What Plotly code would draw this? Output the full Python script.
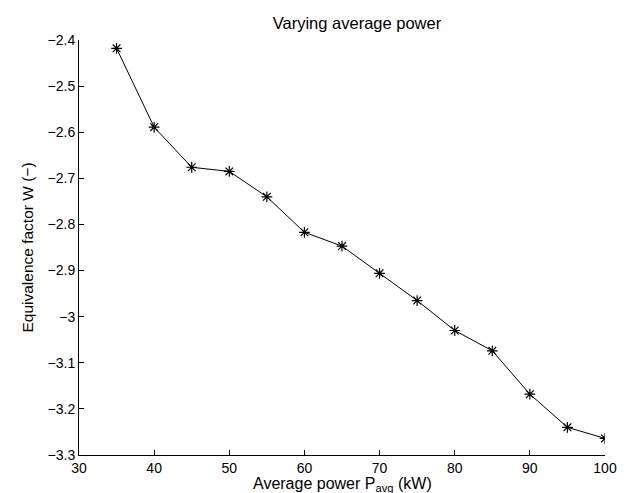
import plotly.graph_objects as go

power_kw = [35, 40, 45, 50, 55, 60, 65, 70, 75, 80, 85, 90, 95, 100]
equiv_w = [-2.418, -2.589, -2.676, -2.685, -2.740, -2.817, -2.847,
           -2.906, -2.965, -3.030, -3.074, -3.168, -3.240, -3.264]

x_ticks = [30, 40, 50, 60, 70, 80, 90, 100]
y_ticks = [-2.4, -2.5, -2.6, -2.7, -2.8, -2.9, -3.0, -3.1, -3.2, -3.3]
y_ticktext = ["\u22122.4", "\u22122.5", "\u22122.6", "\u22122.7", "\u22122.8",
              "\u22122.9", "\u22123", "\u22123.1", "\u22123.2", "\u22123.3"]

font_family = "Liberation Sans, Arial, Helvetica, sans-serif"

fig = go.Figure()
fig.add_trace(go.Scatter(
    x=power_kw, y=equiv_w, mode="lines+markers",
    line=dict(color="black", width=1),
    marker=dict(symbol="asterisk-open", size=9, color="black",
                line=dict(color="black", width=1.2)),
    showlegend=False,
))

fig.update_layout(
    width=632, height=493,
    margin=dict(l=71, r=35, t=32, b=46),
    paper_bgcolor="white", plot_bgcolor="white",
    font=dict(family=font_family, size=13, color="black"),
    title=dict(text="Varying average power", x=(71 + 597) / 2 / 632, xref="paper",
               xanchor="center", y=1 - 15 / 493, yanchor="middle",
               font=dict(size=16.5, color="black")),
    annotations=[dict(
        text="Average power P<sub>avg</sub> (kW)", xref="paper", yref="paper",
        x=0.5, y=(447 - 476) / 415, xanchor="center", yanchor="middle",
        showarrow=False, font=dict(size=16, color="black"),
    )],
)
fig.update_xaxes(
    range=[30, 100], tickvals=x_ticks, ticks="inside", ticklen=5,
    tickcolor="black", showline=True, linecolor="black", linewidth=1,
    showgrid=False, zeroline=False, mirror=False,
    tickfont=dict(size=14),
)
fig.update_yaxes(
    range=[-3.3, -2.4], tickvals=y_ticks, ticktext=y_ticktext, ticks="inside",
    ticklen=5, tickcolor="black", showline=True, linecolor="black", linewidth=1,
    showgrid=False, zeroline=False, mirror=False,
    tickfont=dict(size=14),
    title=dict(text="Equivalence factor W (\u2212)", font=dict(size=15.5), standoff=10),
)

fig.write_html("out.html")
